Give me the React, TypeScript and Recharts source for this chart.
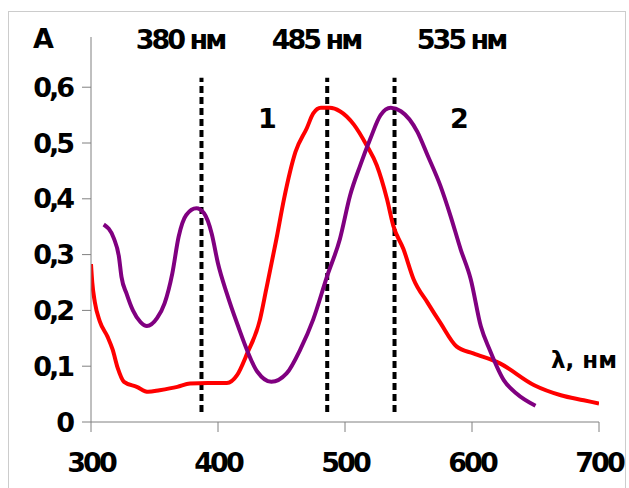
import { LineChart, Line, XAxis, YAxis, ReferenceLine } from 'recharts';

// curve 1 (red)
const redWavelength = [300, 301, 303, 307, 313, 317, 321, 326, 336, 345, 354, 368, 378, 392, 407, 415, 423, 433, 438, 446, 452, 461, 470, 475, 481, 488, 496, 507, 517, 525, 533, 538, 546, 554, 565, 575, 588, 601, 622, 649, 670, 688, 700];
const redAbs = [0.283, 0.25, 0.215, 0.18, 0.153, 0.13, 0.097, 0.072, 0.063, 0.054, 0.057, 0.063, 0.069, 0.07, 0.07, 0.084, 0.123, 0.183, 0.238, 0.328, 0.4, 0.484, 0.527, 0.553, 0.563, 0.563, 0.557, 0.533, 0.496, 0.46, 0.4, 0.352, 0.31, 0.256, 0.214, 0.178, 0.135, 0.123, 0.105, 0.066, 0.048, 0.039, 0.033];

// curve 2 (purple)
const purpleWavelength = [310, 318, 322, 324, 328, 333, 339, 344, 352, 358, 364, 369, 375, 383, 389, 395, 400, 407, 415, 431, 442, 454, 465, 475, 486, 496, 504, 512, 520, 528, 536, 544, 557, 565, 575, 583, 591, 599, 607, 614, 625, 635, 650];
const purpleAbs = [0.354, 0.329, 0.296, 0.26, 0.23, 0.2, 0.179, 0.172, 0.186, 0.213, 0.266, 0.332, 0.371, 0.383, 0.374, 0.338, 0.284, 0.23, 0.177, 0.09, 0.072, 0.087, 0.131, 0.184, 0.262, 0.328, 0.406, 0.46, 0.508, 0.55, 0.563, 0.557, 0.52, 0.478, 0.424, 0.37, 0.31, 0.256, 0.171, 0.129, 0.075, 0.051, 0.029];

const markerWavelengths = [387, 486, 539];
const markerLabels = ['380 нм', '485 нм', '535 нм'];

const xTicks = [300, 400, 500, 600, 700];
const yTicks = [0, 0.1, 0.2, 0.3, 0.4, 0.5, 0.6];

const redData = redWavelength.map((x, i) => ({ x, a: redAbs[i] }));
const purpleData = purpleWavelength.map((x, i) => ({ x, a: purpleAbs[i] }));

const font = "'DejaVu Sans', sans-serif";
const tickStyle = { fontFamily: font, fontSize: 27, fontWeight: 700, fill: '#000', letterSpacing: -3 };

const fmtY = (v: number) => (v === 0 ? '0' : v.toFixed(1).replace('.', ','));

function Label({ x, y, text, size = 27, spacing = -3 }: { x: number; y: number; text: string; size?: number; spacing?: number }) {
  // x, y are page coords of the text centre; frame inner origin is at (9, 12)
  return (
    <div
      style={{
        position: 'absolute',
        left: x - 9,
        top: y - 12,
        transform: 'translate(-50%, -50%)',
        fontFamily: font,
        fontWeight: 700,
        fontSize: size,
        lineHeight: 1,
        letterSpacing: spacing,
        whiteSpace: 'nowrap',
        color: '#000',
      }}
    >
      {text}
    </div>
  );
}

export default function App() {
  const labelX = [180, 316, 461];
  return (
    <div
      style={{
        position: 'absolute',
        left: 8,
        top: 11,
        width: 618,
        height: 490,
        boxSizing: 'border-box',
        border: '1px solid #cccccc',
        background: '#fff',
      }}
    >
      <LineChart width={616} height={490} margin={{ top: 25, right: 26, left: 0, bottom: 0 }}>
        <XAxis
          dataKey="x"
          type="number"
          domain={[300, 700]}
          ticks={xTicks}
          tick={tickStyle}
          tickSize={10}
          tickMargin={21}
          height={80}
          stroke="#808080"
          allowDataOverflow
        />
        <YAxis
          type="number"
          domain={[0, 0.69]}
          ticks={yTicks}
          tick={tickStyle}
          tickFormatter={fmtY}
          tickSize={9}
          tickMargin={10}
          width={82}
          stroke="#808080"
          allowDataOverflow
        />
        {markerWavelengths.map((w) => (
          <ReferenceLine
            key={w}
            segment={[{ x: w, y: 0.018 }, { x: w, y: 0.617 }]}
            stroke="#000"
            strokeWidth={4}
            strokeDasharray="7 4"
          />
        ))}
        <Line
          data={redData}
          dataKey="a"
          type="monotone"
          stroke="#ff0000"
          strokeWidth={4}
          dot={false}
          isAnimationActive={false}
        />
        <Line
          data={purpleData}
          dataKey="a"
          type="monotone"
          stroke="#800080"
          strokeWidth={4}
          dot={false}
          isAnimationActive={false}
        />
      </LineChart>
      <Label x={42} y={38} text="А" />
      {markerLabels.map((t, i) => (
        <Label key={t} x={labelX[i]} y={39} text={t} />
      ))}
      <Label x={266} y={118} text="1" />
      <Label x={458} y={118} text="2" />
      <Label x={584} y={360} text="λ, нм" size={23} spacing={0} />
    </div>
  );
}
